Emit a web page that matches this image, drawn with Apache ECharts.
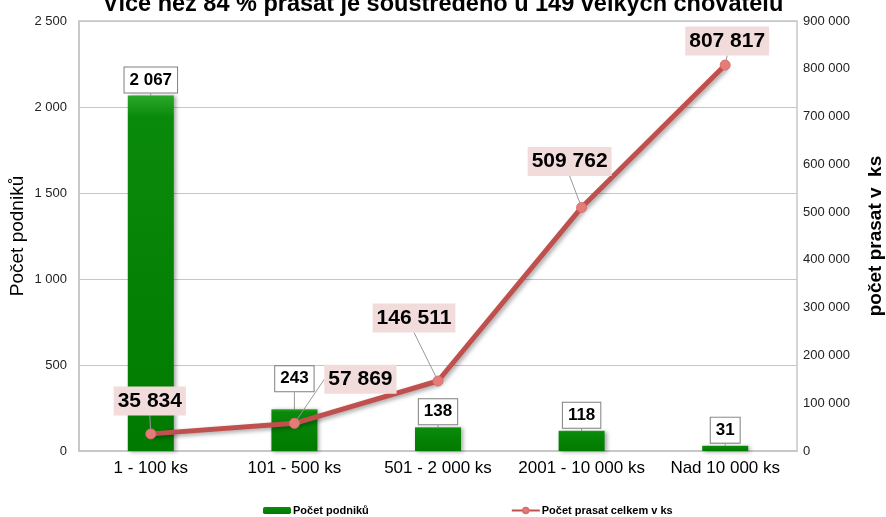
<!DOCTYPE html>
<html lang="cs">
<head>
    <meta charset="utf-8">
    <title>Chovatelé prasat</title>
    <script src="https://cdn.jsdelivr.net/npm/echarts@6/dist/echarts.min.js"></script>
</head>
<body style="margin:0">
    <div id="chart" style="width:886px;height:517px;"></div>
    <script type="text/javascript">

    // data
    var categories = ['1 - 100 ks', '101 - 500 ks', '501 - 2 000 ks', '2001 - 10 000 ks', 'Nad 10 000 ks'];
    var podniky = [2067, 243, 138, 118, 31];
    var prasata = [35834, 57869, 146511, 509762, 807817];

    // posun popisku vuci bodu (dx, dy)
    var lineLabelShift = [[-1, -33], [66, -44], [-24, -63], [-12, -46], [2, -24]];
    var barLabelShift = [0, -15, 0, 0, 0];

    var FONT = 'Arial, "Liberation Sans", sans-serif';

    function fmt(v) {
        return String(v).replace(/\B(?=(\d{3})+(?!\d))/g, ' ');
    }

    var chart = echarts.init(document.getElementById('chart'));
    chart.setOption({
        animation: false,
        textStyle: { fontFamily: FONT },
        title: {
            text: 'Více než 84 % prasat je soustředěno u 149 velkých chovatelů',
            left: 'center',
            top: -7,
            padding: 0,
            textStyle: { fontSize: 23.5, fontWeight: 'bold', color: '#000', fontFamily: FONT }
        },
        legend: {
            left: 258,
            top: 500,
            itemGap: 142,
            itemWidth: 28,
            itemHeight: 7,
            textStyle: { fontSize: 11, fontWeight: 'bold', color: '#000', padding: [0, 0, 0, -3] },
            data: ['Počet podniků', 'Počet prasat celkem v ks']
        },
        grid: {
            left: 79, right: 89, top: 21, bottom: 66,
            outerBoundsMode: 'none',
            containLabel: false,
            show: true,
            borderColor: '#c6c6c6',
            borderWidth: 1.5
        },
        xAxis: {
            type: 'category',
            data: categories,
            axisLine: { lineStyle: { color: '#c6c6c6', width: 1.5 } },
            axisTick: { show: false },
            axisLabel: { fontSize: 17, color: '#000', margin: 9, interval: 0, hideOverlap: false }
        },
        yAxis: [{
            type: 'value',
            min: 0, max: 2500, interval: 500,
            name: 'Počet podniků',
            nameLocation: 'middle',
            nameGap: 52,
            nameMoveOverlap: false,
            nameTextStyle: { fontSize: 19, color: '#000' },
            axisLine: { show: true, lineStyle: { color: '#c6c6c6', width: 1.5 } },
            axisTick: { show: false },
            axisLabel: { fontSize: 13, color: '#222', margin: 12, formatter: fmt },
            splitLine: { lineStyle: { color: '#c6c6c6', width: 1.2 } }
        }, {
            type: 'value',
            min: 0, max: 900000, interval: 100000,
            name: 'počet prasat v  ks',
            nameLocation: 'middle',
            nameGap: 69,
            nameMoveOverlap: false,
            nameTextStyle: { fontSize: 19, fontWeight: 'bold', color: '#000' },
            axisLine: { show: false },
            axisTick: { show: false },
            axisLabel: { fontSize: 13, color: '#222', margin: 6, formatter: fmt },
            splitLine: { show: false }
        }],
        series: [{
            name: 'Počet podniků',
            type: 'bar',
            barWidth: 46,
            data: podniky,
            itemStyle: {
                color: new echarts.graphic.LinearGradient(0, 0, 0, 1, [
                    { offset: 0, color: '#2aa82a' },
                    { offset: 0.06, color: '#0a8a0a' },
                    { offset: 1, color: '#007a00' }
                ]),
                shadowColor: 'rgba(0,0,0,0.35)',
                shadowBlur: 4,
                shadowOffsetX: 2,
                shadowOffsetY: 1
            },
            label: {
                show: true,
                position: 'top',
                distance: 3,
                formatter: function (p) { return fmt(p.value); },
                fontSize: 17,
                fontWeight: 'bold',
                color: '#000',
                lineHeight: 19,
                backgroundColor: '#fff',
                borderColor: '#7f7f7f',
                borderWidth: 1,
                padding: [3, 5]
            },
            labelLine: { show: true, lineStyle: { color: '#999', width: 1 } },
            labelLayout: function (p) {
                return { dy: barLabelShift[p.dataIndex] };
            }
        }, {
            name: 'Počet prasat celkem v ks',
            type: 'line',
            yAxisIndex: 1,
            data: prasata,
            symbol: 'circle',
            symbolSize: 10,
            lineStyle: {
                color: '#c0504d',
                width: 5,
                shadowColor: 'rgba(0,0,0,0.35)',
                shadowBlur: 4,
                shadowOffsetX: 2,
                shadowOffsetY: 2
            },
            itemStyle: {
                color: '#e47c7a',
                borderColor: '#d9706d',
                borderWidth: 1
            },
            label: {
                show: true,
                position: 'inside',
                formatter: function (p) { return fmt(p.value); },
                fontSize: 21,
                fontWeight: 'bold',
                color: '#000',
                lineHeight: 23,
                backgroundColor: '#f2dcdb',
                padding: [3, 4]
            },
            labelLine: { show: true, lineStyle: { color: '#999', width: 1 } },
            labelLayout: function (p) {
                var s = lineLabelShift[p.dataIndex];
                return { dx: s[0], dy: s[1] };
            },
            z: 3
        }]
    });
    </script>
</body>
</html>
